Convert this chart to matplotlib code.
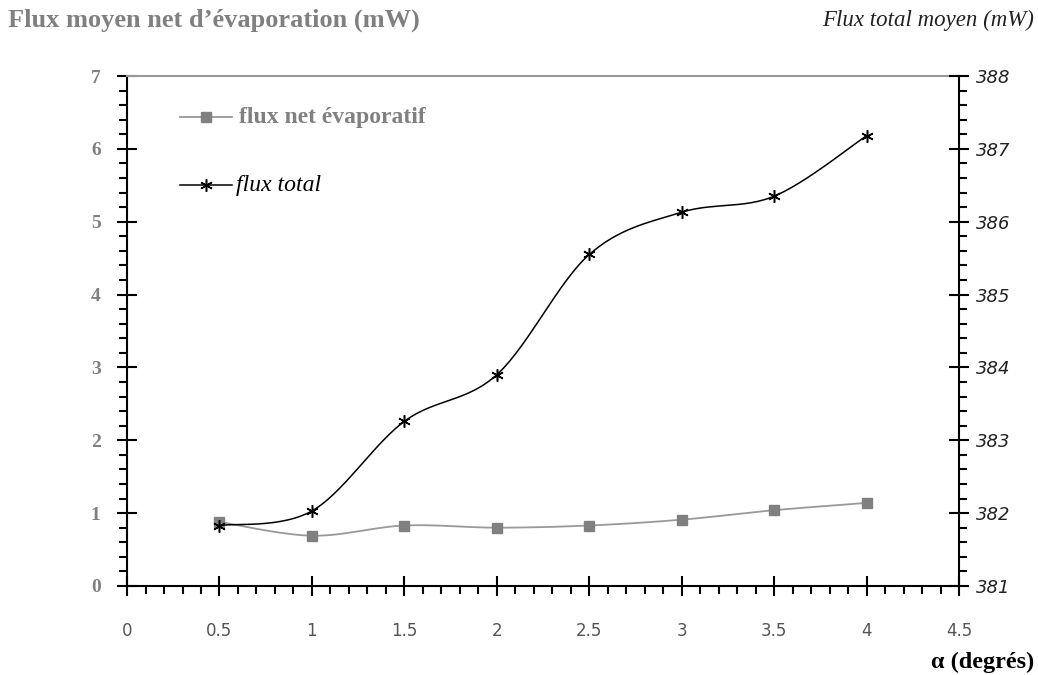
import numpy as np
import matplotlib
matplotlib.use("Agg")
import matplotlib.pyplot as plt
from matplotlib.ticker import MultipleLocator, FixedLocator

alpha = [0.5, 1.0, 1.5, 2.0, 2.5, 3.0, 3.5, 4.0]
flux_net = [0.88, 0.69, 0.83, 0.80, 0.83, 0.91, 1.04, 1.14]
flux_total = [381.83, 382.03, 383.26, 383.90, 385.55, 386.13, 386.35, 387.18]

left_ticks = [0, 1, 2, 3, 4, 5, 6, 7]
right_ticks = [381, 382, 383, 384, 385, 386, 387, 388]
x_ticks = [0, 0.5, 1, 1.5, 2, 2.5, 3, 3.5, 4, 4.5]
x_labels = ["0", "0.5", "1", "1.5", "2", "2.5", "3", "3.5", "4", "4.5"]


def smooth(x, y, n=30):
    # Catmull-Rom smoothing (Excel-style smoothed line)
    x = np.asarray(x, float); y = np.asarray(y, float)
    P = np.column_stack([x, y])
    P = np.vstack([P[0], P, P[-1]])
    out = []
    for i in range(1, len(P) - 2):
        p0, p1, p2, p3 = P[i - 1], P[i], P[i + 1], P[i + 2]
        t = np.linspace(0, 1, n)[:, None]
        c = 0.5 * ((2 * p1) + (-p0 + p2) * t + (2 * p0 - 5 * p1 + 4 * p2 - p3) * t ** 2
                   + (-p0 + 3 * p1 - 3 * p2 + p3) * t ** 3)
        out.append(c)
    out = np.vstack(out)
    return out[:, 0], out[:, 1]


fig = plt.figure(figsize=(10.38, 6.75), dpi=100)
ax = fig.add_axes([0.1224, 0.1319, 0.8015, 0.7555])
ax2 = ax.twinx()

gray = "#808080"
serif = "Liberation Serif"

sx, sy = smooth(alpha, flux_net)
ax.plot(sx, sy, color="#999999", lw=1.3, zorder=2)
ax.plot(alpha, flux_net, ls="none", marker="s", ms=7.5, color=gray, zorder=3)

tx, ty = smooth(alpha, flux_total)
ax2.plot(tx, ty, color="black", lw=1.1, zorder=2)
ax2.plot(alpha, flux_total, ls="none", marker=(6, 2, 0), ms=9, mew=1.1, color="black", zorder=3)

ax.set_xlim(0, 4.5)
ax.set_ylim(0, 7)
ax2.set_ylim(381, 388)

ax.xaxis.set_major_locator(FixedLocator(x_ticks))
ax.set_xticklabels(x_labels, fontsize=12, color="#555555", family="DejaVu Sans")
ax.xaxis.set_minor_locator(MultipleLocator(0.1))
ax.yaxis.set_major_locator(FixedLocator(left_ticks))
ax.set_yticklabels([str(v) for v in left_ticks], fontsize=14, color=gray, family=serif, fontweight="bold")
ax.yaxis.set_minor_locator(MultipleLocator(0.2))
ax2.yaxis.set_major_locator(FixedLocator(right_ticks))
ax2.set_yticklabels([str(v) for v in right_ticks], fontsize=13, color="#222222",
                    family="DejaVu Sans", style="italic")
ax2.yaxis.set_minor_locator(MultipleLocator(0.2))

for a in (ax, ax2):
    for s in a.spines.values():
        s.set_visible(False)
ax.spines["left"].set_visible(True)
ax.spines["bottom"].set_visible(True)
ax2.spines["right"].set_visible(True)
ax.spines["top"].set_visible(True)
ax.spines["top"].set_color("#999999")
ax.spines["top"].set_linewidth(1.5)
for sp in (ax.spines["left"], ax.spines["bottom"], ax2.spines["right"]):
    sp.set_linewidth(1.5)
    sp.set_color("black")

ax.tick_params(axis="x", which="major", direction="inout", length=14, width=1.5, pad=19)
ax.tick_params(axis="x", which="minor", direction="out", length=6, width=1.5)
ax.tick_params(axis="y", which="major", direction="inout", length=14, width=1.5, pad=12)
ax.tick_params(axis="y", which="minor", direction="out", length=6, width=1.5)
ax2.tick_params(axis="y", which="major", direction="inout", length=14, width=1.5, pad=5)
ax2.tick_params(axis="y", which="minor", direction="out", length=6, width=1.5)

# legend drawn manually in figure pixels
def fx(px): return px / 1038
def fy(py): return 1 - py / 675

fig.add_artist(plt.Line2D([fx(180), fx(232)], [fy(117), fy(117)], color="#999999", lw=1.3))
fig.add_artist(plt.Line2D([fx(206)], [fy(117)], marker="s", ms=7.5, color=gray, ls="none"))
fig.text(fx(239), fy(117), "flux net évaporatif", fontsize=17, family=serif, fontweight="bold",
         color=gray, va="center", ha="left")
fig.add_artist(plt.Line2D([fx(180), fx(232)], [fy(185), fy(185)], color="black", lw=1.1))
fig.add_artist(plt.Line2D([fx(206)], [fy(185)], marker=(6, 2, 0), ms=9, mew=1.1, color="black", ls="none"))
fig.text(fx(236), fy(185), "flux total", fontsize=17, family=serif, style="italic",
         color="black", va="center", ha="left")

fig.text(fx(8), fy(20), "Flux moyen net d’évaporation (mW)", fontsize=19, family=serif,
         fontweight="bold", color=gray, va="center", ha="left")
fig.text(fx(1034), fy(20), "Flux total moyen (mW)", fontsize=16.5, family=serif, style="italic",
         color="#222222", va="center", ha="right")
fig.text(fx(1034), fy(662), "α (degrés)", fontsize=17.5, family=serif, fontweight="bold",
         color="black", va="center", ha="right")

fig.savefig("out.png", dpi=100)
